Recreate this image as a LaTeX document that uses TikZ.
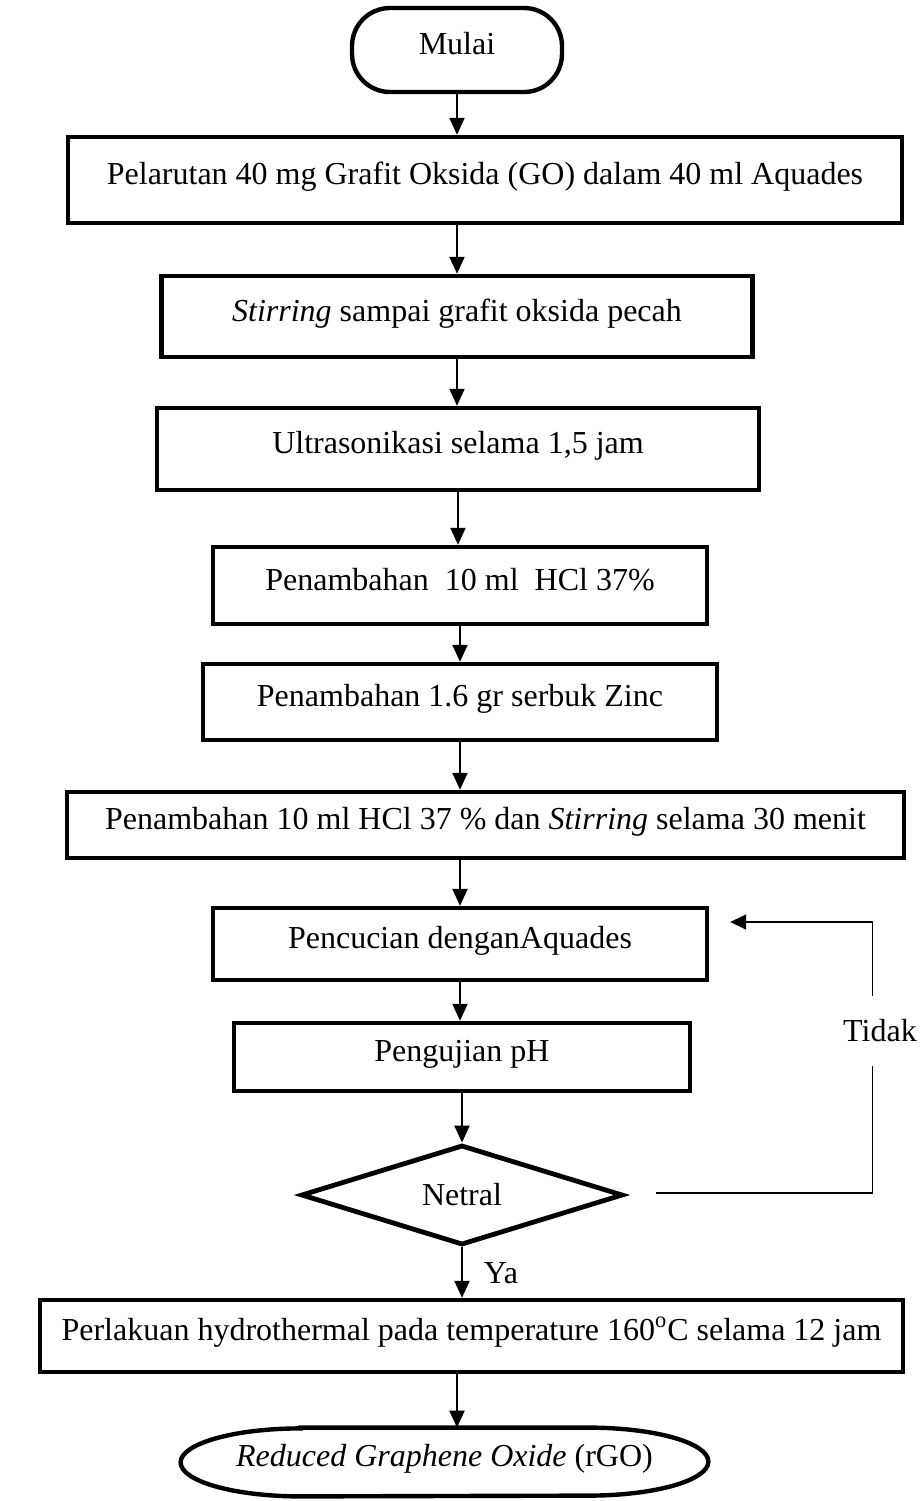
\documentclass[tikz,border=0pt]{standalone}
\usepackage{fontspec}
\setmainfont{Liberation Serif}
\usetikzlibrary{arrows.meta,shapes.geometric}

\tikzset{
  flowfont/.style={font=\fontsize{16}{19}\selectfont},
  procbox/.style={flowfont, draw, line width=2.2pt, rectangle, inner sep=0pt, text height=10.5pt, text depth=6pt},
  decisionbox/.style={flowfont, draw, line width=2.4pt, diamond, aspect=3.2, inner sep=0pt},
  flowarrow/.style={line width=1pt, -{Triangle[length=8.5pt,width=7.5pt]}},
  backline/.style={line width=0.7pt, -{Triangle[length=8pt,width=7.5pt]}},
}

\begin{document}
\begin{tikzpicture}[x=0.5pt, y=-0.5pt]
% page frame in pixel units of the reference
\useasboundingbox (0,0) rectangle (921,1501);
% Steps
\node[procbox, rounded corners=19pt, minimum width=105pt, minimum height=42pt] (mulai) at (457,50) {Mulai};
\node[procbox, minimum width=417pt, minimum height=43pt] (larut) at (485,180) {Pelarutan 40 mg Grafit Oksida (GO) dalam 40 ml Aquades};
\node[procbox, minimum width=295.5pt, minimum height=40.5pt] (stir) at (457,316.5) {\textit{Stirring} sampai grafit oksida pecah};
\node[procbox, minimum width=301pt, minimum height=41pt] (sonik) at (458,449) {Ultrasonikasi selama 1,5 jam};
\node[procbox, minimum width=247pt, minimum height=38.5pt] (hclA) at (460,585.5) {Penambahan\ \ 10 ml\ \ HCl 37\%};
\node[procbox, minimum width=257pt, minimum height=38pt] (zinc) at (460,702) {Penambahan 1.6 gr serbuk Zinc};
\node[procbox, minimum width=418.5pt, minimum height=33pt] (hclB) at (485.5,825) {Penambahan 10 ml HCl 37 \% dan \textit{Stirring} selama 30 menit};
\node[procbox, minimum width=247pt, minimum height=36pt] (cuci) at (460,944) {Pencucian denganAquades};
\node[procbox, minimum width=228pt, minimum height=34pt] (uji) at (462,1057) {Pengujian pH};
\node[decisionbox, minimum width=161pt, minimum height=50pt] (netral) at (462,1195) {Netral};
\node[procbox, minimum width=431.5pt, minimum height=36pt] (hydro) at (471.5,1336) {Perlakuan hydrothermal pada temperature 160\textsuperscript{o}C selama 12 jam};
\node[flowfont, inner sep=0pt, text height=10.5pt, text depth=6pt, minimum width=263.5pt, minimum height=34pt] (rgo) at (444.5,1462) {\textit{Reduced Graphene Oxide} (rGO)};
% End terminal with long rounded ends
\draw[line width=2.2pt] ([xshift=60pt]rgo.north west) -- ([xshift=-60pt]rgo.north east)
  arc[start angle=90, end angle=-90, x radius=60pt, y radius=17pt]
  -- ([xshift=60pt]rgo.south west)
  arc[start angle=270, end angle=90, x radius=60pt, y radius=17pt] -- cycle;
% Main flow
\draw[flowarrow] (mulai.south) -- (mulai.south |- larut.north);
\draw[flowarrow] (larut.south -| stir.north) -- (stir.north);
\draw[flowarrow] (stir.south) -- (stir.south |- sonik.north);
\draw[flowarrow] (sonik.south) -- (sonik.south |- hclA.north);
\draw[flowarrow] (hclA.south) -- (zinc.north);
\draw[flowarrow] (zinc.south) -- (zinc.south |- hclB.north);
\draw[flowarrow] (hclB.south -| cuci.north) -- (cuci.north);
\draw[flowarrow] (cuci.south) -- (cuci.south |- uji.north);
\draw[flowarrow] (uji.south) -- (netral.north);
\draw[flowarrow] (netral.south) -- (netral.south |- hydro.north);
\draw[flowarrow] ([xshift=6.25pt]rgo.north |- hydro.south) -- ([xshift=6.25pt]rgo.north);
\node[flowfont, inner sep=0pt] (ya) at (501,1273) {Ya};
% Loop back when not neutral
\coordinate (fbStart) at ([xshift=15.5pt,yshift=1pt]netral.east);
\coordinate (fbEnd) at ([xshift=10.5pt,yshift=11pt]cuci.east);
\draw[backline] (fbStart) -- ++(216,0) |- (fbEnd);
\node[flowfont, fill=white, inner sep=0pt, minimum height=35pt] (tidak) at (880,1031) {Tidak};
\end{tikzpicture}
\end{document}
